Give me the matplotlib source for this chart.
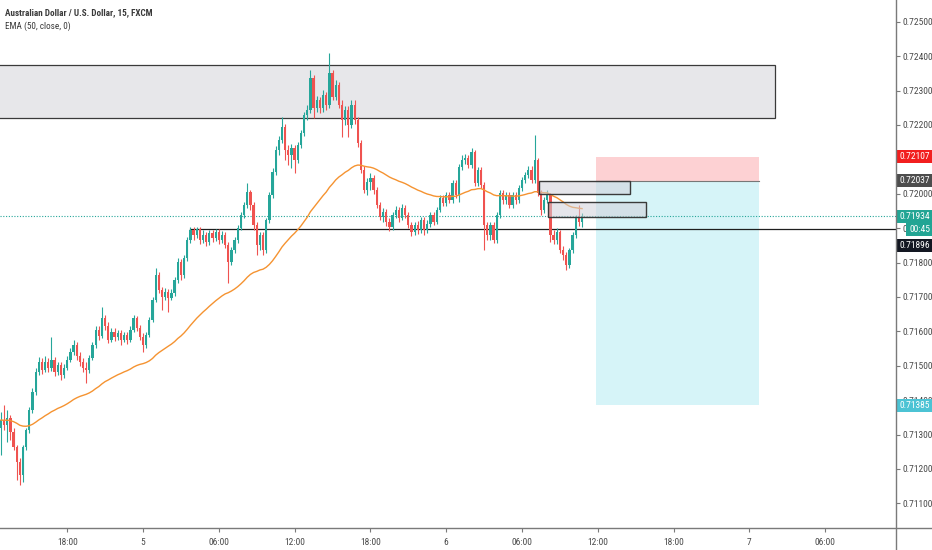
import numpy as np
import pandas as pd
import matplotlib
matplotlib.use('Agg')
import matplotlib.pyplot as plt
from matplotlib.patches import Rectangle
from matplotlib.lines import Line2D
import matplotlib.transforms as mtransforms
from matplotlib import font_manager

# ---------------- data (AUD/USD 15m, FXCM) ----------------
first_open = 0.71319
closes = [
    0.71342, 0.71328, 0.71348, 0.71307, 0.71264, 0.71220, 0.71182, 0.71264, 0.71313, 0.71371,
    0.71424, 0.71482, 0.71511, 0.71488, 0.71511, 0.71493, 0.71517, 0.71482, 0.71502, 0.71473,
    0.71493, 0.71517, 0.71540, 0.71560, 0.71528, 0.71511, 0.71493, 0.71488, 0.71522, 0.71560,
    0.71604, 0.71586, 0.71639, 0.71615, 0.71575, 0.71598, 0.71583, 0.71595, 0.71575, 0.71589,
    0.71575, 0.71604, 0.71639, 0.71610, 0.71583, 0.71560, 0.71589, 0.71633, 0.71691, 0.71764,
    0.71720, 0.71700, 0.71714, 0.71697, 0.71711, 0.71749, 0.71801, 0.71764, 0.71813, 0.71865,
    0.71895, 0.71880, 0.71897, 0.71865, 0.71880, 0.71860, 0.71886, 0.71871, 0.71889, 0.71865,
    0.71880, 0.71851, 0.71801, 0.71836, 0.71865, 0.71900, 0.71938, 0.71967, 0.72005, 0.71967,
    0.71909, 0.71851, 0.71880, 0.71836, 0.71924, 0.71996, 0.72063, 0.72127, 0.72156, 0.72194,
    0.72127, 0.72112, 0.72133, 0.72098, 0.72142, 0.72176, 0.72229, 0.72243, 0.72336, 0.72249,
    0.72272, 0.72249, 0.72287, 0.72258, 0.72351, 0.72281, 0.72316, 0.72258, 0.72214, 0.72243,
    0.72200, 0.72258, 0.72214, 0.72147, 0.72069, 0.72011, 0.72034, 0.72046, 0.72011, 0.71967,
    0.71932, 0.71947, 0.71918, 0.71903, 0.71938, 0.71953, 0.71929, 0.71958, 0.71938, 0.71909,
    0.71889, 0.71909, 0.71895, 0.71924, 0.71895, 0.71912, 0.71938, 0.71918, 0.71953, 0.71987,
    0.71973, 0.71996, 0.71982, 0.72031, 0.71996, 0.72078, 0.72098, 0.72104, 0.72083, 0.72121,
    0.72031, 0.72069, 0.72025, 0.71909, 0.71880, 0.71909, 0.71865, 0.71938, 0.72002, 0.71982,
    0.71996, 0.71967, 0.71996, 0.71982, 0.72016, 0.72040, 0.72054, 0.72069, 0.72040, 0.72098,
    0.72002, 0.71953, 0.71982, 0.71996, 0.71880, 0.71865, 0.71889, 0.71836, 0.71822, 0.71793,
    0.71836, 0.71880, 0.71929, 0.71918, 0.71934,
]
highs = [
    0.71365, 0.71386, 0.71371, 0.71357, 0.71319, 0.71270, 0.71232, 0.71270, 0.71319, 0.71380,
    0.71435, 0.71493, 0.71525, 0.71522, 0.71528, 0.71522, 0.71583, 0.71525, 0.71511, 0.71511,
    0.71505, 0.71528, 0.71551, 0.71575, 0.71569, 0.71540, 0.71522, 0.71511, 0.71531, 0.71569,
    0.71615, 0.71615, 0.71671, 0.71647, 0.71627, 0.71610, 0.71610, 0.71604, 0.71604, 0.71598,
    0.71598, 0.71615, 0.71647, 0.71645, 0.71618, 0.71595, 0.71598, 0.71642, 0.71700, 0.71784,
    0.71772, 0.71729, 0.71726, 0.71723, 0.71723, 0.71758, 0.71813, 0.71810, 0.71822, 0.71874,
    0.71903, 0.71903, 0.71903, 0.71903, 0.71895, 0.71889, 0.71895, 0.71895, 0.71897, 0.71897,
    0.71892, 0.71889, 0.71860, 0.71845, 0.71874, 0.71909, 0.71947, 0.71976, 0.72031, 0.72011,
    0.71976, 0.71918, 0.71889, 0.71889, 0.71929, 0.72005, 0.72075, 0.72139, 0.72168, 0.72223,
    0.72203, 0.72142, 0.72145, 0.72142, 0.72150, 0.72185, 0.72238, 0.72258, 0.72360, 0.72345,
    0.72284, 0.72281, 0.72301, 0.72296, 0.72409, 0.72360, 0.72330, 0.72325, 0.72272, 0.72255,
    0.72255, 0.72272, 0.72272, 0.72223, 0.72156, 0.72080, 0.72046, 0.72060, 0.72054, 0.72019,
    0.71976, 0.71958, 0.71955, 0.71929, 0.71947, 0.71964, 0.71961, 0.71970, 0.71967, 0.71947,
    0.71918, 0.71918, 0.71921, 0.71932, 0.71932, 0.71924, 0.71947, 0.71947, 0.71961, 0.71996,
    0.71996, 0.72005, 0.72005, 0.72040, 0.72040, 0.72086, 0.72112, 0.72115, 0.72112, 0.72133,
    0.72127, 0.72078, 0.72078, 0.72034, 0.71918, 0.71918, 0.71918, 0.71947, 0.72011, 0.72011,
    0.72005, 0.72005, 0.72005, 0.72005, 0.72025, 0.72049, 0.72063, 0.72080, 0.72080, 0.72171,
    0.72104, 0.72011, 0.71990, 0.72011, 0.72002, 0.71895, 0.71900, 0.71895, 0.71848, 0.71830,
    0.71842, 0.71889, 0.71938, 0.71967, 0.71944,
]
lows = [
    0.71240, 0.71313, 0.71278, 0.71284, 0.71255, 0.71168, 0.71153, 0.71162, 0.71255, 0.71304,
    0.71363, 0.71415, 0.71473, 0.71476, 0.71482, 0.71482, 0.71485, 0.71470, 0.71473, 0.71459,
    0.71464, 0.71488, 0.71511, 0.71531, 0.71517, 0.71499, 0.71482, 0.71450, 0.71479, 0.71517,
    0.71551, 0.71575, 0.71580, 0.71604, 0.71566, 0.71569, 0.71572, 0.71575, 0.71560, 0.71569,
    0.71563, 0.71569, 0.71598, 0.71601, 0.71575, 0.71540, 0.71551, 0.71583, 0.71627, 0.71685,
    0.71711, 0.71662, 0.71691, 0.71656, 0.71691, 0.71703, 0.71740, 0.71749, 0.71755, 0.71804,
    0.71857, 0.71865, 0.71871, 0.71854, 0.71857, 0.71848, 0.71851, 0.71860, 0.71863, 0.71854,
    0.71857, 0.71842, 0.71740, 0.71793, 0.71828, 0.71857, 0.71895, 0.71929, 0.71958, 0.71953,
    0.71895, 0.71822, 0.71836, 0.71822, 0.71828, 0.71915, 0.71988, 0.72054, 0.72112, 0.72147,
    0.72098, 0.72083, 0.72075, 0.72060, 0.72089, 0.72133, 0.72168, 0.72214, 0.72235, 0.72220,
    0.72238, 0.72235, 0.72238, 0.72243, 0.72249, 0.72272, 0.72272, 0.72249, 0.72165, 0.72200,
    0.72165, 0.72191, 0.72203, 0.72136, 0.72060, 0.72002, 0.71996, 0.72011, 0.71999, 0.71958,
    0.71924, 0.71918, 0.71906, 0.71892, 0.71895, 0.71929, 0.71918, 0.71924, 0.71929, 0.71900,
    0.71877, 0.71880, 0.71883, 0.71886, 0.71880, 0.71886, 0.71903, 0.71909, 0.71912, 0.71947,
    0.71964, 0.71964, 0.71973, 0.71973, 0.71987, 0.71976, 0.72069, 0.72086, 0.72075, 0.72075,
    0.72022, 0.72022, 0.72016, 0.71836, 0.71865, 0.71865, 0.71857, 0.71857, 0.71929, 0.71970,
    0.71970, 0.71958, 0.71958, 0.71970, 0.71973, 0.72008, 0.72031, 0.72046, 0.72031, 0.72031,
    0.71993, 0.71938, 0.71944, 0.71973, 0.71860, 0.71854, 0.71854, 0.71828, 0.71807, 0.71778,
    0.71784, 0.71828, 0.71871, 0.71906, 0.71903,
]
opens = [first_open] + closes[:-1]

# time axis (bar index; first bar = 12:45 on day 4)
x_tick_bars = [21, 45, 69, 93, 117, 141, 165, 189, 213, 237, 261]
x_tick_labels = ['18:00', '5', '06:00', '12:00', '18:00', '6', '06:00', '12:00', '18:00', '7', '06:00']
y_ticks = [0.71100, 0.71200, 0.71300, 0.71400, 0.71500, 0.71600, 0.71700, 0.71800,
           0.71900, 0.72000, 0.72100, 0.72200, 0.72300, 0.72400, 0.72500]
hidden_tick_labels = [0.72100]   # fully covered by the stop-loss price label

# drawings
zone_bars = (-2, 245.1)
zone_prices = (0.72220, 0.72374)
box1_bars = (170.4, 199.3)
box1_prices = (0.72000, 0.72038)
box2_bars = (173.2, 204.3)
box2_prices = (0.71931, 0.71976)
hline_price = 0.71896
hline_start_bar = 60
last_price = 0.71934
pos_bars = (188.3, 240.1)
pos_entry = 0.72037
pos_stop = 0.72107
pos_target = 0.71385
countdown = '00:45'

TEAL = '#26a69a'
RED = '#ef5350'

# ---------------- fonts ----------------
installed = {f.name for f in font_manager.fontManager.ttflist}
condensed = None
for name in ['Roboto Condensed', 'Liberation Sans Narrow', 'DejaVu Sans Condensed', 'Open Sans Condensed']:
    if name in installed:
        condensed = name
        break
if condensed:
    label_font = [condensed, 'DejaVu Sans']
    scale_fs = 6.8
    title_fs = 6.6
else:
    label_font = ['Liberation Sans', 'DejaVu Sans']
    scale_fs = 6.0
    title_fs = 6.2

# ---------------- figure ----------------
W, H = 932, 550
fig = plt.figure(figsize=(W / 100, H / 100), dpi=100)
fig.patch.set_facecolor('white')
ax_bottom_px = 22
ax_right_px = 896
ax = fig.add_axes([0, ax_bottom_px / H, ax_right_px / W, 1 - ax_bottom_px / H])
XMIN, XMAX = -0.285, 283.4
YMIN, YMAX = 0.710282, 0.725631
ax.set_xlim(XMIN, XMAX)
ax.set_ylim(YMIN, YMAX)
px_per_price = (H - ax_bottom_px) / (YMAX - YMIN)

idx = np.arange(len(closes))
o = np.array(opens); c = np.array(closes); hi = np.array(highs); lo = np.array(lows)
up = c >= o
cols = np.where(up, TEAL, RED)

# zone (behind candles)
ax.add_patch(Rectangle((zone_bars[0], zone_prices[0]), zone_bars[1] - zone_bars[0],
                       zone_prices[1] - zone_prices[0], facecolor='#e7e7ea',
                       edgecolor='#3a3a3a', lw=0.9, zorder=1))

# position tool
ax.add_patch(Rectangle((pos_bars[0], pos_entry), pos_bars[1] - pos_bars[0], pos_stop - pos_entry,
                       facecolor=(0.98, 0.25, 0.28, 0.24), edgecolor='none', zorder=1))
ax.add_patch(Rectangle((pos_bars[0], pos_target), pos_bars[1] - pos_bars[0], pos_entry - pos_target,
                       facecolor=(0.0, 0.74, 0.83, 0.16), edgecolor='none', zorder=1))
ax.plot([pos_bars[0], pos_bars[1]], [pos_entry, pos_entry], color='#777777', lw=0.8, zorder=1.5)

# lines
ax.axhline(last_price, color=TEAL, lw=0.8, ls=(0, (1, 1.5)), zorder=1.6)
ax.plot([hline_start_bar, XMAX], [hline_price, hline_price], color='#1e1e1e', lw=0.9, zorder=1.7)

# candles
ax.vlines(idx, lo, hi, colors=cols, lw=0.8, zorder=2)
body_bottom = np.minimum(o, c)
body_h = np.maximum(np.abs(c - o), 0.00002)
ax.bar(idx, body_h, bottom=body_bottom, width=0.72, color=cols, linewidth=0, zorder=2.1)

# EMA 50
ema = pd.Series(closes).ewm(span=50, adjust=False).mean()
ax.plot(idx, ema.values, color='#f59331', lw=1.0, zorder=2.5)

# boxes (over candles, semi transparent)
for bars, prices in [(box1_bars, box1_prices), (box2_bars, box2_prices)]:
    ax.add_patch(Rectangle((bars[0], prices[0]), bars[1] - bars[0], prices[1] - prices[0],
                           facecolor=(0.82, 0.82, 0.85, 0.55), edgecolor='#3a3a3a', lw=1.0, zorder=3))

# ---------------- axes styling ----------------
for s in ['top', 'left', 'right', 'bottom']:
    ax.spines[s].set_visible(False)
fig.add_artist(Line2D([0, 1], [ax_bottom_px / H] * 2, transform=fig.transFigure,
                      color='#7a7a7a', lw=1.0))
fig.add_artist(Line2D([ax_right_px / W] * 2, [0, 1], transform=fig.transFigure,
                      color='#7a7a7a', lw=1.0))

ax.yaxis.tick_right()
ax.set_yticks(y_ticks)
ax.set_yticklabels(['' if v in hidden_tick_labels else '%.5f' % v for v in y_ticks],
                   fontsize=scale_fs, color='#4a4a4a', family=label_font)
ax.tick_params(axis='y', direction='out', length=3, width=0.8, color='#7a7a7a', pad=1.5)
ax.set_xticks(x_tick_bars)
ax.set_xticklabels(x_tick_labels, fontsize=scale_fs, color='#4a4a4a', family=label_font)
ax.tick_params(axis='x', direction='out', length=3, width=0.8, color='#7a7a7a', pad=4)

# ---------------- price labels on the scale ----------------
trans = mtransforms.blended_transform_factory(ax.transAxes, ax.transData)
lab_w = (W - ax_right_px) / ax_right_px


def scale_label(price, text, fc, tc, dy_px=0.0, x0_px=0.0, h_px=13.0):
    yc = price - dy_px / px_per_price
    half = h_px / 2 / px_per_price
    x0 = 1 + x0_px / ax_right_px
    ax.add_patch(Rectangle((x0, yc - half), 1 + lab_w - x0 + 0.01, 2 * half, transform=trans,
                           facecolor=fc, edgecolor='none', clip_on=False, zorder=10))
    ax.text((x0 + 1 + lab_w) / 2 + 0.5 / ax_right_px, yc, text, transform=trans, ha='center',
            va='center', fontsize=scale_fs, color=tc, family=label_font, clip_on=False, zorder=11)


scale_label(pos_stop, '%.5f' % pos_stop, '#f21f1f', 'white', x0_px=1)
scale_label(pos_entry, '%.5f' % pos_entry, '#4d4d4d', 'white', x0_px=1)
scale_label(last_price, '%.5f' % last_price, '#22a594', 'white', x0_px=1)
scale_label(hline_price, countdown, '#22a594', 'white', dy_px=0.0, x0_px=10, h_px=13)
scale_label(hline_price, '%.5f' % hline_price, '#131722', 'white', dy_px=16, x0_px=1)
scale_label(pos_target, '%.5f' % pos_target, '#4cc3d4', 'white', x0_px=1)

# ---------------- legend texts ----------------
fig.text(5 / W, 1 - 13 / H, 'Australian Dollar / U.S. Dollar, 15, FXCM', fontsize=title_fs,
         fontweight='bold', color='#3a3a3a', family=label_font, va='center', ha='left')
fig.text(5 / W, 1 - 26 / H, 'EMA (50, close, 0)', fontsize=title_fs, color='#3a3a3a',
         family=label_font, va='center', ha='left')

fig.savefig('out.png', dpi=100, facecolor='white')
